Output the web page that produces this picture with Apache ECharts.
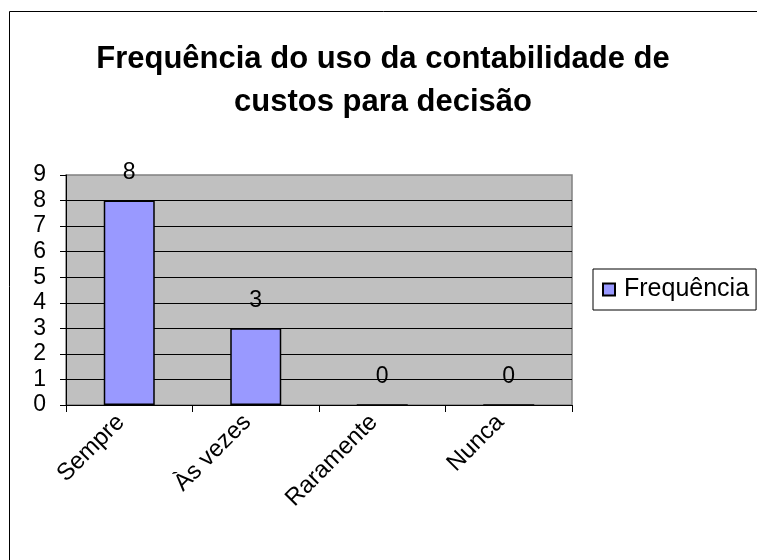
<!DOCTYPE html>
<html>
<head>
<meta charset="utf-8">
<script src="https://cdn.jsdelivr.net/npm/echarts@6/dist/echarts.min.js"></script>
<style>
  html, body { margin: 0; padding: 0; background: #fff; }
  #chart { width: 757px; height: 560px; }
</style>
</head>
<body>
<div id="chart"></div>
<script>
const chartTitle = 'Frequência do uso da contabilidade de\ncustos para decisão'
const categories = ['Sempre', 'Às vezes', 'Raramente', 'Nunca']
const seriesName = 'Frequência'
const frequencia = [8, 3, 0, 0]
const yTicks = { min: 0, max: 9, interval: 1 }

const font = '"Liberation Sans", Arial, sans-serif'
const chart = echarts.init(document.getElementById('chart'))

chart.setOption({
  animation: false,
  textStyle: { fontFamily: font },
  // moldura externa do gráfico
  graphic: [{
    type: 'rect',
    shape: { x: 9.5, y: 11.5, width: 800, height: 600 },
    style: { fill: 'none', stroke: '#000', lineWidth: 1 },
    z: -1
  }],
  title: {
    text: chartTitle,
    left: 378,
    textAlign: 'center',
    top: 33,
    textStyle: {
      fontFamily: font,
      fontSize: 31,
      fontWeight: 'bold',
      color: '#000',
      lineHeight: 43
    }
  },
  legend: {
    data: [seriesName],
    left: 593,
    top: 269,
    orient: 'vertical',
    itemWidth: 12,
    itemHeight: 12,
    itemGap: 0,
    icon: 'rect',
    padding: [8, 7, 8, 9],
    borderColor: '#000',
    borderWidth: 1,
    textStyle: { fontFamily: font, fontSize: 25, color: '#000', padding: [0, 0, 0, 4] }
  },
  grid: {
    left: 66,
    top: 175,
    width: 506,
    height: 230,
    show: true,
    backgroundColor: '#c0c0c0',
    borderColor: '#808080',
    borderWidth: 1.5
  },
  xAxis: {
    type: 'category',
    data: categories,
    axisLine: { lineStyle: { color: '#000', width: 1 } },
    axisTick: { show: true, length: 7, lineStyle: { color: '#000' } },
    axisLabel: {
      interval: 0,
      rotate: 45,
      align: 'right',
      verticalAlign: 'bottom',
      fontSize: 24,
      color: '#000',
      margin: 22,
      fontFamily: font
    }
  },
  yAxis: {
    type: 'value',
    min: yTicks.min,
    max: yTicks.max,
    interval: yTicks.interval,
    axisLine: { show: true, lineStyle: { color: '#000', width: 1 } },
    axisTick: { show: true, length: 6, lineStyle: { color: '#000' } },
    axisLabel: { fontSize: 23, color: '#000', margin: 20, fontFamily: font },
    splitLine: {
      show: true,
      showMaxLine: false,
      lineStyle: { color: '#000', width: 1 }
    }
  },
  series: [{
    name: seriesName,
    type: 'bar',
    data: frequencia,
    barWidth: 51,
    itemStyle: { color: '#9999ff', borderColor: '#000', borderWidth: 1.5 },
    label: {
      show: true,
      position: 'top',
      distance: 16,
      fontSize: 23,
      color: '#000',
      fontFamily: font
    }
  }]
})
</script>
</body>
</html>
